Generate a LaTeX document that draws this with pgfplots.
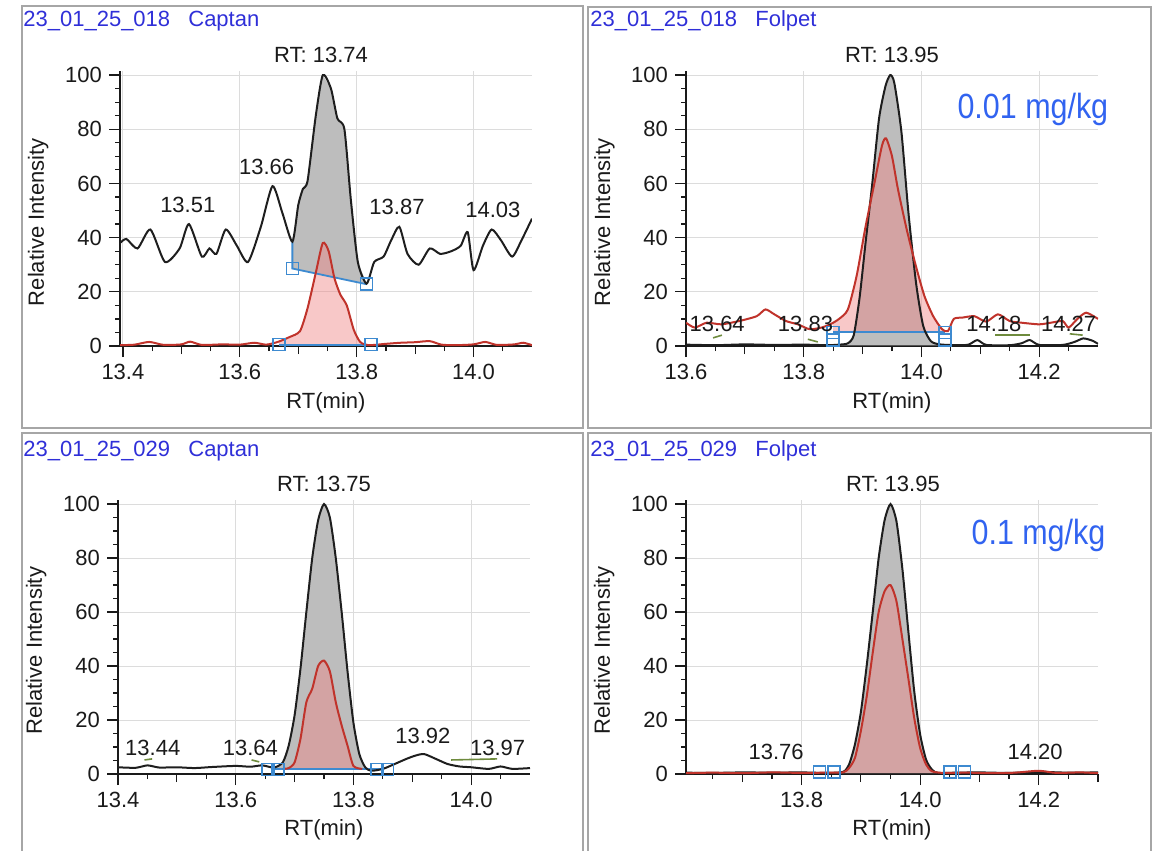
\documentclass[border=0pt]{standalone}
\usepackage{fontspec}
\setmainfont{Liberation Sans}
\usepackage{graphicx}
\usepackage{pgfplots}
\pgfplotsset{compat=1.18}

\definecolor{trk}{HTML}{1E1E1E}
\definecolor{trr}{HTML}{C0332B}
\definecolor{fillg}{HTML}{BDBDBD}
\definecolor{fillr}{HTML}{EF8585}
\definecolor{bl}{HTML}{3D8AD0}
\definecolor{gridc}{HTML}{DCDCDC}
\definecolor{framec}{HTML}{A6A6A6}
\definecolor{titlec}{HTML}{2F2FD8}
\definecolor{concc}{HTML}{3163F0}
\definecolor{olivec}{HTML}{6E8B3D}
\definecolor{labc}{HTML}{1A1A1A}

\pgfplotsset{
  chrom/.style={
    clip mode=individual,
    scale only axis, width=206pt, height=137.5pt, anchor=south west,
    ymin=0, ymax=101.5,
    axis x line*=bottom, axis y line*=left,
    axis line style={line width=0.75pt, labc},
    tick align=outside,
    major tick length=5.5pt, minor tick length=2.5pt,
    every tick/.style={line width=0.6pt, labc},
    ytick={0,20,...,100}, minor y tick num=3,
    grid=major, major grid style={gridc, line width=0.5pt},
    tick label style={font=\fontsize{11}{13}\selectfont, text=labc},
    /pgf/number format/assume math mode=true,
    xticklabel style={/pgf/number format/.cd, fixed, fixed zerofill, precision=1},
    extra x tick style={xmajorgrids=false, major tick length=4pt},
    extra x tick labels={,,,},
    xlabel={RT(min)}, ylabel={Relative Intensity},
    label style={font=\fontsize{11}{13}\selectfont, text=labc},
    xlabel style={at={(axis description cs:0.5,-0.2255)}, anchor=base},
    ylabel style={at={(axis description cs:-0.1845,0.45)}, anchor=base},
  },
  ktrace/.style={trk, line width=1pt, smooth, tension=0.4},
  rtrace/.style={trr, line width=1pt, smooth, tension=0.4},
  gfill/.style={draw=none, fill=fillg},
  rfill/.style={draw=none, fill=fillr, fill opacity=0.45},
  base/.style={bl, line width=0.9pt},
  sq/.style={only marks, mark=square, mark size=3pt, mark options={bl, line width=0.8pt}},
  pk/.style={olivec, line width=0.8pt},
}
\tikzset{lbl/.style={font=\fontsize{11}{13}\selectfont, text=labc, anchor=base, inner sep=0pt}}

\begin{document}
\begin{tikzpicture}
\useasboundingbox (0,0) rectangle (577pt,-425pt);

% panel frames and titles
\begin{scope}[x=0.5pt, y=-0.5pt]
  \draw[framec, line width=1pt] (22,6) rectangle (583,428);
  \draw[framec, line width=1pt] (588,7) rectangle (1151,428);
  \draw[framec, line width=1pt] (22,852) -- (22,433) -- (583,433) -- (583,852);
  \draw[framec, line width=1pt] (588,852) -- (588,433) -- (1151,433) -- (1151,852);
  \node[anchor=base west, inner sep=0pt, text=titlec, font=\fontsize{11}{13}\selectfont] at (23,27) {23\_01\_25\_018\hspace{0.55em} Captan};
  \node[anchor=base west, inner sep=0pt, text=titlec, font=\fontsize{11}{13}\selectfont] at (590,27) {23\_01\_25\_018\hspace{0.55em} Folpet};
  \node[anchor=base west, inner sep=0pt, text=titlec, font=\fontsize{11}{13}\selectfont] at (23,456) {23\_01\_25\_029\hspace{0.55em} Captan};
  \node[anchor=base west, inner sep=0pt, text=titlec, font=\fontsize{11}{13}\selectfont] at (590,456) {23\_01\_25\_029\hspace{0.55em} Folpet};
\end{scope}

% ---------------- top left: 018 Captan
\begin{axis}[chrom, at={(60pt,-173pt)},
  xmin=13.395, xmax=14.1, xtick={13.4,13.6,13.8,14.0},
  minor xtick={13.45,13.55,13.65,13.75,13.85,13.95,14.05},
  extra x ticks={13.5,13.7,13.9}]
  % integrated areas
  \addplot[gfill] coordinates {
    (13.690,38.5) (13.700,52) (13.708,58) (13.716,61) (13.730,85) (13.742,100)
    (13.756,95) (13.767,84) (13.779,80) (13.790,54) (13.802,31) (13.817,23)
    (13.817,22.8) (13.690,28.6)} --cycle;
  \addplot[rfill] coordinates {
    (13.667,0.3) (13.667,1.7) (13.685,3.3) (13.703,5.5) (13.716,14) (13.730,27)
    (13.742,38) (13.752,35) (13.762,25) (13.772,19) (13.783,15) (13.795,6)
    (13.806,1.5) (13.82,0.3)} --cycle;
  \addplot[base] coordinates {(13.690,38.5) (13.690,28.6) (13.817,22.8)};
  \addplot[base] coordinates {(13.667,0.3) (13.825,0.3)};
  \addplot[ktrace] coordinates {
    (13.395,38) (13.406,39.5) (13.425,36) (13.447,43) (13.472,31) (13.497,36)
    (13.513,45) (13.535,33) (13.548,36) (13.56,34) (13.576,43) (13.595,37)
    (13.614,31) (13.636,44) (13.656,59) (13.673,49) (13.690,38.5) (13.700,52)
    (13.708,58) (13.716,61) (13.730,85) (13.742,100) (13.756,95) (13.767,84)
    (13.779,80) (13.790,54) (13.802,31) (13.817,23) (13.830,31) (13.846,33)
    (13.859,39) (13.873,44) (13.887,34) (13.906,30) (13.925,36) (13.943,34)
    (13.962,35) (13.978,37) (13.990,42) (14.000,28) (14.016,37) (14.031,43)
    (14.047,39) (14.066,33) (14.082,39) (14.100,47)};
  \addplot[rtrace] coordinates {
    (13.395,0.3) (13.42,0.5) (13.445,1.5) (13.47,0.4) (13.50,0.6) (13.515,1.6)
    (13.535,0.4) (13.57,0.6) (13.60,0.5) (13.625,1.2) (13.645,0.5) (13.665,1.5)
    (13.685,3.3) (13.703,5.5) (13.716,14) (13.730,27) (13.742,38) (13.752,35)
    (13.762,25) (13.772,19) (13.783,15) (13.795,6) (13.806,1.5) (13.82,0.3)
    (13.85,0.8) (13.875,1.2) (13.90,1.4) (13.925,1.8) (13.945,0.5) (13.97,0.3)
    (14.00,0.6) (14.02,1.5) (14.04,0.4) (14.07,0.6) (14.085,1.2) (14.10,0.3)};
  \addplot[sq] coordinates {(13.690,28.6) (13.817,22.8) (13.667,0.5) (13.825,0.5)};
  \node[lbl] at (axis cs:13.739,104.7) {RT: 13.74};
  \node[lbl] at (axis cs:13.646,63.4) {13.66};
  \node[lbl] at (axis cs:13.511,49.3) {13.51};
  \node[lbl] at (axis cs:13.869,48.6) {13.87};
  \node[lbl] at (axis cs:14.033,47.4) {14.03};
\end{axis}

% ---------------- top right: 018 Folpet
\begin{axis}[chrom, at={(343pt,-173pt)},
  xmin=13.6, xmax=14.3, xtick={13.6,13.8,14.0,14.2},
  minor xtick={13.65,13.75,13.85,13.95,14.05,14.15,14.25},
  extra x ticks={13.7,13.9,14.1}]
  \addplot[gfill] coordinates {
    (13.85,0.2) (13.86,0.5) (13.875,1) (13.885,4) (13.895,18) (13.905,38)
    (13.916,59) (13.928,84) (13.939,96) (13.947,100) (13.954,97) (13.966,79)
    (13.978,49) (13.991,23) (14.003,7.4) (14.016,1.8) (14.031,0.6) (14.04,0.4)
    (14.04,0.2)} --cycle;
  \addplot[rfill] coordinates {
    (13.85,5.2) (13.85,8.7) (13.86,10) (13.875,13.5) (13.89,26) (13.905,44)
    (13.92,60) (13.933,74) (13.94,76.6) (13.95,70) (13.96,58) (13.975,43)
    (13.99,30) (14.005,18.5) (14.02,11) (14.035,6.2) (14.04,5.8) (14.04,5.2)} --cycle;
  \addplot[base] coordinates {(13.85,5.2) (14.04,5.2)};
  \addplot[ktrace] coordinates {
    (13.60,0.5) (13.65,0.3) (13.70,0.6) (13.75,0.4) (13.80,0.5) (13.84,0.3)
    (13.86,0.5) (13.875,1) (13.885,4) (13.895,18) (13.905,38) (13.916,59)
    (13.928,84) (13.939,96) (13.947,100) (13.954,97) (13.966,79) (13.978,49)
    (13.991,23) (14.003,7.4) (14.016,1.8) (14.031,0.6) (14.06,0.3) (14.08,0.5)
    (14.095,2.2) (14.11,0.4) (14.15,0.3) (14.17,1) (14.184,2.2) (14.20,0.4)
    (14.24,0.4) (14.26,1.5) (14.275,2.8) (14.29,2) (14.30,0.8)};
  \addplot[rtrace] coordinates {
    (13.60,8.6) (13.615,6.8) (13.635,8.6) (13.66,8) (13.69,9.2) (13.72,11)
    (13.735,13.5) (13.75,11.7) (13.77,9.2) (13.79,8) (13.81,6.2) (13.83,6.8)
    (13.845,8) (13.86,10) (13.875,13.5) (13.89,26) (13.905,44) (13.92,60)
    (13.933,74) (13.94,76.6) (13.95,70) (13.96,58) (13.975,43) (13.99,30)
    (14.005,18.5) (14.02,11) (14.035,6.2) (14.045,5.5) (14.055,10) (14.07,10.5)
    (14.09,11) (14.11,9) (14.13,11.7) (14.15,9.2) (14.17,8.6) (14.20,8)
    (14.22,8.6) (14.24,9.2) (14.25,6.8) (14.265,10) (14.28,12.3) (14.30,10)};
  \addplot[sq] coordinates {(13.85,5) (14.04,5) (13.85,2.2) (14.04,2.2)};
  \addplot[pk] coordinates {(13.646,3) (13.661,4)};
  \addplot[pk] coordinates {(13.807,2.5) (13.824,1.5)};
  \addplot[pk] coordinates {(14.125,4) (14.184,4)};
  \addplot[pk] coordinates {(14.252,4.5) (14.274,4)};
  \node[lbl] at (axis cs:13.95,104.7) {RT: 13.95};
  \node[lbl] at (axis cs:13.653,5.2) {13.64};
  \node[lbl] at (axis cs:13.803,5.2) {13.83};
  \node[lbl] at (axis cs:14.123,5.2) {14.18};
  \node[lbl] at (axis cs:14.25,5.2) {14.27};
  \node[anchor=base east, inner sep=0pt, text=concc, font=\fontsize{17.5}{20}\selectfont]
    at (axis cs:14.318,84.1) {\scalebox{0.87}[1]{0.01 mg/kg}};
\end{axis}

% ---------------- bottom left: 029 Captan
\begin{axis}[chrom, at={(59pt,-387pt)}, height=137pt,
  xmin=13.4, xmax=14.1, xtick={13.4,13.6,13.8,14.0},
  minor xtick={13.45,13.55,13.65,13.75,13.85,13.95,14.05},
  extra x ticks={13.5,13.7,13.9}]
  \addplot[gfill] coordinates {
    (13.661,1.9) (13.665,2.4) (13.68,4.3) (13.69,10.5) (13.70,21.7) (13.71,39)
    (13.72,60) (13.73,80) (13.74,94) (13.75,100) (13.76,95) (13.77,80)
    (13.78,60) (13.79,38) (13.80,19) (13.81,7.4) (13.82,2.5) (13.83,1.2)
    (13.85,1.9)} --cycle;
  \addplot[rfill] coordinates {
    (13.68,1.9) (13.69,2.2) (13.70,4.3) (13.71,13) (13.72,26.6) (13.73,31.6)
    (13.74,40) (13.75,42) (13.76,38) (13.77,26.6) (13.78,18) (13.79,10.5)
    (13.80,3) (13.815,1.9)} --cycle;
  \addplot[base] coordinates {(13.661,1.9) (13.85,1.9)};
  \addplot[ktrace] coordinates {
    (13.40,2.5) (13.43,2.3) (13.45,3.2) (13.47,2.4) (13.50,2.5) (13.53,2.2)
    (13.56,2.6) (13.60,3) (13.625,2.7) (13.645,3.2) (13.665,2.4) (13.68,4.3)
    (13.69,10.5) (13.70,21.7) (13.71,39) (13.72,60) (13.73,80) (13.74,94)
    (13.75,100) (13.76,95) (13.77,80) (13.78,60) (13.79,38) (13.80,19)
    (13.81,7.4) (13.82,2.5) (13.83,1.2) (13.85,1.9) (13.87,3.7) (13.89,5.6)
    (13.905,6.8) (13.92,7.4) (13.94,5.6) (13.96,3.7) (13.98,2.8) (14.00,2.5)
    (14.03,1.9) (14.05,2.8) (14.07,1.9) (14.10,2.2)};
  \addplot[rtrace] coordinates {
    (13.68,1.9) (13.69,2.2) (13.70,4.3) (13.71,13) (13.72,26.6) (13.73,31.6)
    (13.74,40) (13.75,42) (13.76,38) (13.77,26.6) (13.78,18) (13.79,10.5)
    (13.80,3) (13.815,1.9)};
  \addplot[sq] coordinates {(13.655,1.6) (13.672,1.6) (13.84,1.6) (13.858,1.6)};
  \addplot[pk] coordinates {(13.445,5.2) (13.458,5.6)};
  \addplot[pk] coordinates {(13.627,5.2) (13.64,4.5)};
  \addplot[pk] coordinates {(13.966,5.2) (14.044,5.6)};
  \node[lbl] at (axis cs:13.75,104.7) {RT: 13.75};
  \node[lbl] at (axis cs:13.459,6.8) {13.44};
  \node[lbl] at (axis cs:13.625,6.8) {13.64};
  \node[lbl] at (axis cs:13.918,11.2) {13.92};
  \node[lbl] at (axis cs:14.045,6.8) {13.97};
\end{axis}

% ---------------- bottom right: 029 Folpet
\begin{axis}[chrom, at={(343pt,-387pt)}, height=137pt,
  xmin=13.605, xmax=14.3, xtick={13.8,14.0,14.2},
  minor xtick={13.65,13.75,13.85,13.95,14.05,14.15,14.25},
  extra x ticks={13.7,13.9,14.1,14.3}]
  \addplot[gfill] coordinates {
    (13.835,0.3) (13.84,0.4) (13.87,0.8) (13.88,3.5) (13.89,11) (13.90,23)
    (13.91,40.5) (13.92,60) (13.93,80) (13.94,94) (13.95,100) (13.96,93.6)
    (13.97,76) (13.98,53) (13.99,30.6) (14.00,14.6) (14.01,5.3) (14.02,1.6)
    (14.03,0.4) (14.06,0.5) (14.065,0.3)} --cycle;
  \addplot[rfill] coordinates {
    (13.835,0.3) (13.84,0.5) (13.87,0.6) (13.88,2.2) (13.89,6) (13.90,16)
    (13.91,29) (13.92,45) (13.93,60) (13.94,67.7) (13.95,70) (13.96,64)
    (13.97,50) (13.98,35.5) (13.99,20.7) (14.00,9.6) (14.01,3.5) (14.02,1)
    (14.04,0.4) (14.065,0.3)} --cycle;
  \addplot[ktrace] coordinates {
    (13.605,0.5) (13.65,0.4) (13.70,0.6) (13.75,0.5) (13.80,0.6) (13.84,0.4)
    (13.87,0.8) (13.88,3.5) (13.89,11) (13.90,23) (13.91,40.5) (13.92,60)
    (13.93,80) (13.94,94) (13.95,100) (13.96,93.6) (13.97,76) (13.98,53)
    (13.99,30.6) (14.00,14.6) (14.01,5.3) (14.02,1.6) (14.03,0.4) (14.06,0.5)
    (14.10,0.6) (14.15,0.4) (14.20,0.8) (14.25,0.5) (14.30,0.6)};
  \addplot[rtrace] coordinates {
    (13.605,0.3) (13.65,0.5) (13.70,0.3) (13.75,0.6) (13.80,0.4) (13.84,0.5)
    (13.87,0.6) (13.88,2.2) (13.89,6) (13.90,16) (13.91,29) (13.92,45)
    (13.93,60) (13.94,67.7) (13.95,70) (13.96,64) (13.97,50) (13.98,35.5)
    (13.99,20.7) (14.00,9.6) (14.01,3.5) (14.02,1) (14.04,0.4) (14.08,0.5)
    (14.12,0.3) (14.16,0.5) (14.20,1.2) (14.23,0.4) (14.27,0.6) (14.30,0.3)};
  \addplot[sq] coordinates {(13.83,0.8) (13.855,0.8) (14.05,0.8) (14.075,0.8)};
  \node[lbl] at (axis cs:13.954,104.7) {RT: 13.95};
  \node[lbl] at (axis cs:13.757,5.3) {13.76};
  \node[lbl] at (axis cs:14.194,5.3) {14.20};
  \node[anchor=base east, inner sep=0pt, text=concc, font=\fontsize{17.5}{20}\selectfont]
    at (axis cs:14.313,85.1) {\scalebox{0.87}[1]{0.1 mg/kg}};
\end{axis}
\end{tikzpicture}
\end{document}
